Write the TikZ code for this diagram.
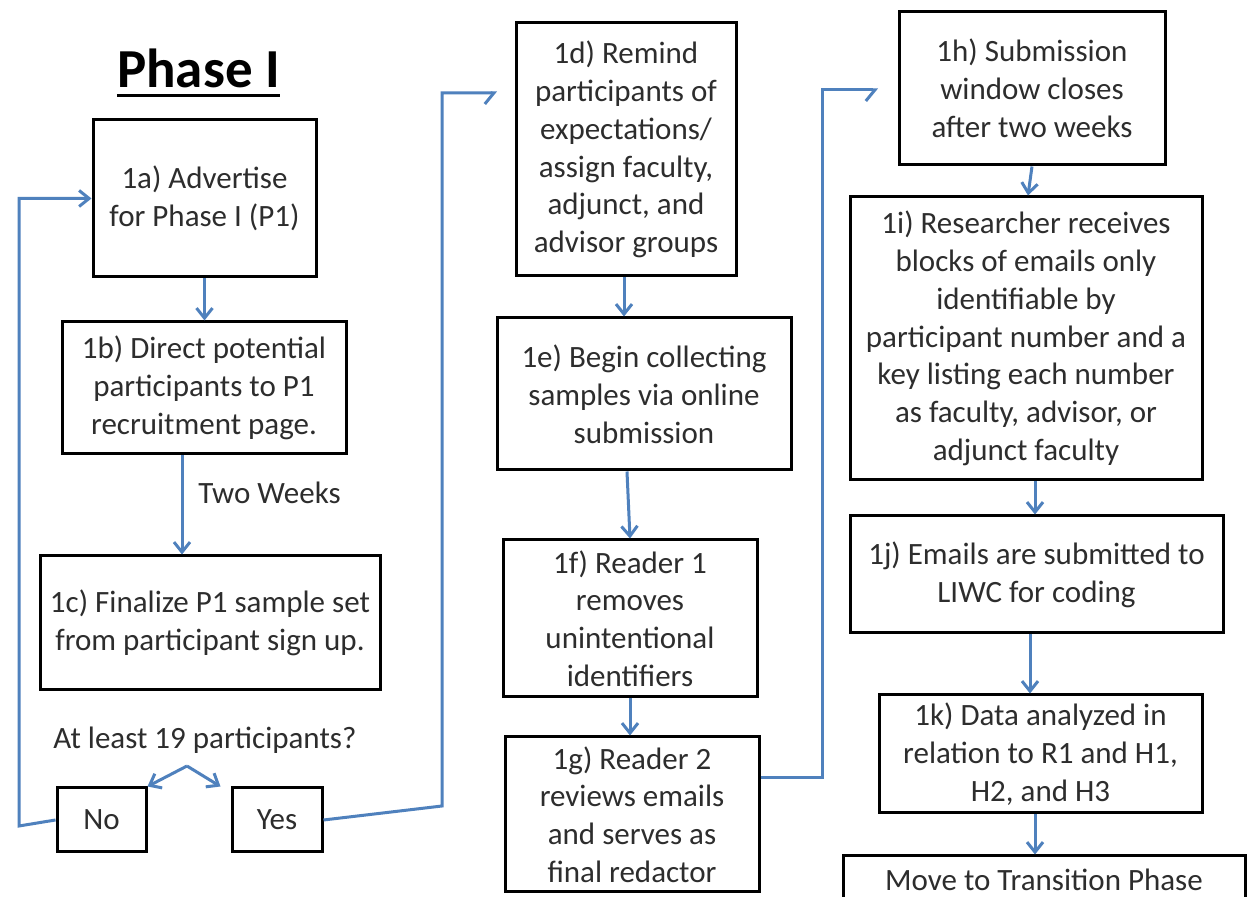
\documentclass[tikz,border=0pt]{standalone}
\usepackage{fontspec}
\setmainfont{Carlito}
\usetikzlibrary{arrows.meta}
\definecolor{arrowblue}{RGB}{79,129,189}
\definecolor{txt}{RGB}{45,45,45}
\begin{document}
\begin{tikzpicture}[x=0.5pt,y=-0.5pt,
  box/.style={draw=black, line width=1.5pt, fill=white, align=center, inner sep=0pt, text=txt, font=\fontsize{15.5pt}{18.9pt}\selectfont},
  lbl/.style={text=txt, font=\fontsize{15.5pt}{18.9pt}\selectfont, inner sep=0pt},
  arr/.style={draw=arrowblue, line width=1.5pt, -{Straight Barb[length=5pt,width=8pt]}},
  halfarr/.style={draw=arrowblue, line width=1.5pt, -{Straight Barb[length=4.5pt,width=11pt,right]}}]
\fill[white] (0,0) rectangle (1255,897);
\useasboundingbox (0,0) rectangle (1255,897);
\clip (0,0) rectangle (1255,897);

% title
\node[text=black, font=\fontsize{27.5pt}{30pt}\selectfont\bfseries, inner sep=0pt, anchor=base] (title) at (198.5,88) {Phase I};
\draw[line width=1.5pt] ([yshift=-4pt]title.base west) -- ([yshift=-4pt]title.base east);

% left column
\node[box, minimum width=111.5pt, minimum height=78.5pt] (n1a) at (204.5,198.5) {1a) Advertise\\for Phase I (P1)};
\node[box, minimum width=142pt, minimum height=66pt] (n1b) at (204,388) {1b) Direct potential\\participants to P1\\recruitment page.};
\node[box, minimum width=170pt, minimum height=67pt] (n1c) at (210,623) {1c) Finalize P1 sample set\\from participant sign up.};
\node[lbl, anchor=west] (tw) at (198,493) {Two Weeks};
\node[lbl, anchor=west] (q) at (53,740) {At least 19 participants?};
\node[box, minimum width=44.5pt, minimum height=32pt] (no) at (101.5,820) {No};
\node[box, minimum width=45pt, minimum height=32pt] (yes) at (277,820) {Yes};

% middle column
\node[box, minimum width=110pt, minimum height=126.5pt] (n1d) at (626,149.5) {1d) Remind\\participants of\\expectations/\\assign faculty,\\adjunct, and\\advisor groups};
\node[box, minimum width=147pt, minimum height=76pt] (n1e) at (644,394) {1e) Begin collecting\\samples via online\\submission};
\node[box, minimum width=127pt, minimum height=78.5pt] (n1f) at (630,618.5) {1f) Reader 1\\removes\\unintentional\\identifiers};
\node[box, minimum width=127pt, minimum height=77.5pt] (n1g) at (632,814.5) {1g) Reader 2\\reviews emails\\and serves as\\final redactor};

% right column
\node[box, minimum width=133pt, minimum height=76.5pt] (n1h) at (1032,88.5) {1h) Submission\\window closes\\after two weeks};
\node[box, minimum width=176pt, minimum height=141.5pt] (n1i) at (1026,338.5) {1i) Researcher receives\\blocks of emails only\\identifiable by\\participant number and a\\key listing each number\\as faculty, advisor, or\\adjunct faculty};
\node[box, minimum width=186.5pt, minimum height=58.5pt] (n1j) at (1036.5,574.5) {1j) Emails are submitted to\\LIWC for coding};
\node[box, minimum width=161.5pt, minimum height=59pt] (n1k) at (1040.5,754) {1k) Data analyzed in\\relation to R1 and H1,\\H2, and H3};
\node[box, minimum width=201pt, minimum height=24pt] (fin) at (1044,880) {Move to Transition Phase};

% helper coordinates
\coordinate (tx) at (182,0);
\coordinate (apex) at (187,766);
\coordinate (nl) at (19,826);
\coordinate (yb) at (442,806);
\coordinate (yt) at (442,93);
\coordinate (ye) at (497,93);
\coordinate (dx) at (624,0);
\coordinate (gc) at (822,778);
\coordinate (hc) at (878,90);
\coordinate (cx1) at (1035,0);
\coordinate (cx2) at (1030,0);

% connectors
\draw[arr] (n1a.south) -- (n1a.south |- n1b.north);
\draw[arr] (n1b.south -| tx) -- (n1c.north -| tx);
\draw[arr] (apex) -- (no.north east);
\draw[arr] (apex) -- ([xshift=-5pt]yes.north west);
\draw[arr] (no.west) -- (nl) -- (nl |- n1a.west) -- (n1a.west);
\draw[halfarr] (yes.east) -- (yb) -- (yt) -- (ye);

\draw[arr] (n1d.south -| dx) -- (n1e.north -| dx);
\draw[arr] ([xshift=-8.5pt]n1e.south) -- (n1f.north);
\draw[arr] (n1f.south) -- (n1f.south |- n1g.north);
\draw[halfarr] (gc -| n1g.east) -- (gc) -- (gc |- hc) -- (hc);

\draw[arr] (n1h.south) -- ([xshift=1pt]n1i.north);
\draw[arr] (n1i.south -| cx1) -- (n1j.north -| cx1);
\draw[arr] (n1j.south -| cx2) -- (n1k.north -| cx2);
\draw[arr] (n1k.south -| cx1) -- (fin.north -| cx1);
\end{tikzpicture}
\end{document}
